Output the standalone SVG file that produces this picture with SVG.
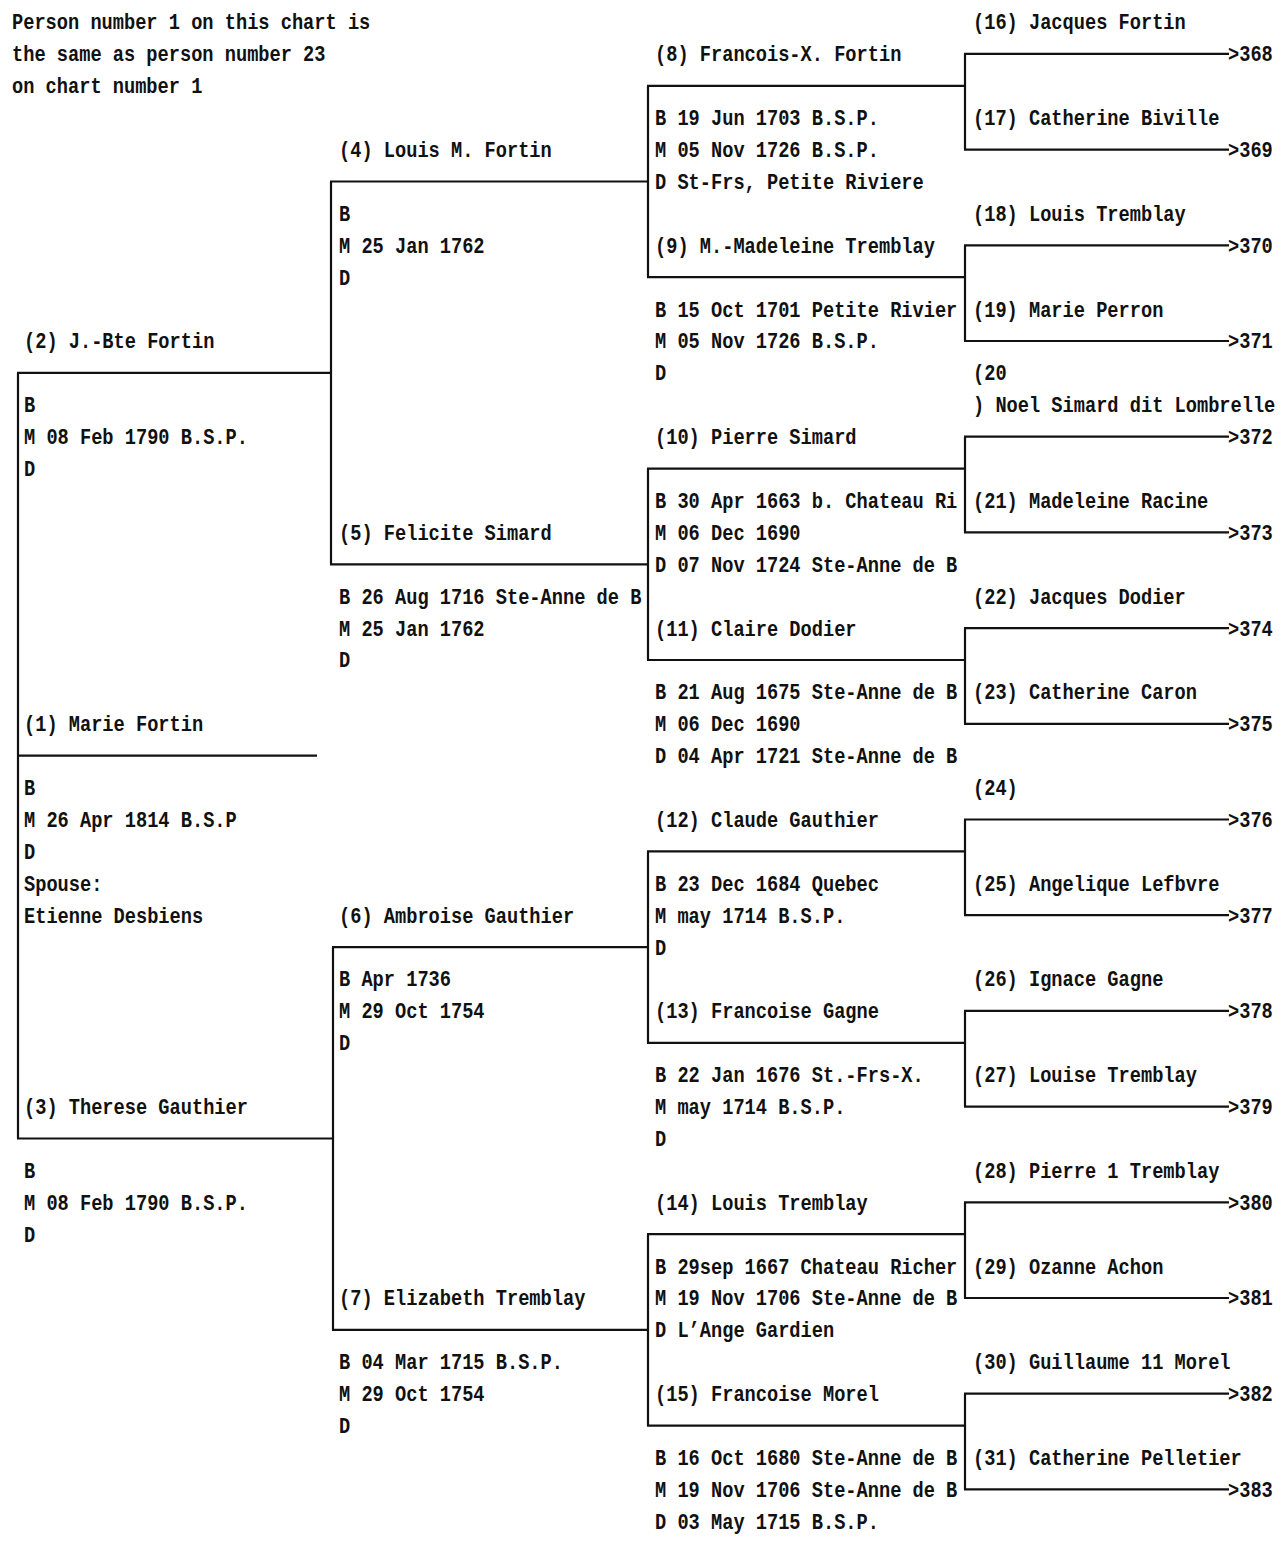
<svg xmlns="http://www.w3.org/2000/svg" width="1283" height="1543" viewBox="0 0 1283 1543">
<style>
text{font-family:"Liberation Mono","DejaVu Sans Mono",monospace;font-size:18.67px;font-weight:bold;fill:#111;white-space:pre}
.c line{stroke:#111;stroke-width:2.2;fill:none}
</style>
<rect width="1283" height="1543" fill="#fff"/>
<g id="connectors" class="c">
<line x1="18" y1="372.9" x2="18" y2="1138.5"/>
<line x1="17" y1="372.9" x2="331" y2="372.9"/>
<line x1="18" y1="755.7" x2="317" y2="755.7"/>
<line x1="17" y1="1138.5" x2="333" y2="1138.5"/>
<line x1="331" y1="181.5" x2="331" y2="564.3"/>
<line x1="333" y1="947.1" x2="333" y2="1329.9"/>
<line x1="330" y1="181.5" x2="648" y2="181.5"/>
<line x1="330" y1="564.3" x2="648" y2="564.3"/>
<line x1="332" y1="947.1" x2="648" y2="947.1"/>
<line x1="332" y1="1329.9" x2="648" y2="1329.9"/>
<line x1="648" y1="85.8" x2="648" y2="277.2"/>
<line x1="648" y1="468.6" x2="648" y2="660"/>
<line x1="648" y1="851.4" x2="648" y2="1042.8"/>
<line x1="648" y1="1234.2" x2="648" y2="1425.6"/>
<line x1="647" y1="85.8" x2="965" y2="85.8"/>
<line x1="647" y1="277.2" x2="965" y2="277.2"/>
<line x1="647" y1="468.6" x2="965" y2="468.6"/>
<line x1="647" y1="660" x2="965" y2="660"/>
<line x1="647" y1="851.4" x2="965" y2="851.4"/>
<line x1="647" y1="1042.8" x2="965" y2="1042.8"/>
<line x1="647" y1="1234.2" x2="965" y2="1234.2"/>
<line x1="647" y1="1425.6" x2="965" y2="1425.6"/>
<line x1="965" y1="53.9" x2="965" y2="149.6"/>
<line x1="965" y1="245.3" x2="965" y2="341"/>
<line x1="965" y1="436.7" x2="965" y2="532.4"/>
<line x1="965" y1="628.1" x2="965" y2="723.8"/>
<line x1="965" y1="819.5" x2="965" y2="915.2"/>
<line x1="965" y1="1010.9" x2="965" y2="1106.6"/>
<line x1="965" y1="1202.3" x2="965" y2="1298"/>
<line x1="965" y1="1393.7" x2="965" y2="1489.4"/>
<line x1="964" y1="53.9" x2="1229" y2="53.9"/>
<line x1="964" y1="149.6" x2="1229" y2="149.6"/>
<line x1="964" y1="245.3" x2="1229" y2="245.3"/>
<line x1="964" y1="341" x2="1229" y2="341"/>
<line x1="964" y1="436.7" x2="1229" y2="436.7"/>
<line x1="964" y1="532.4" x2="1229" y2="532.4"/>
<line x1="964" y1="628.1" x2="1229" y2="628.1"/>
<line x1="964" y1="723.8" x2="1229" y2="723.8"/>
<line x1="964" y1="819.5" x2="1229" y2="819.5"/>
<line x1="964" y1="915.2" x2="1229" y2="915.2"/>
<line x1="964" y1="1010.9" x2="1229" y2="1010.9"/>
<line x1="964" y1="1106.6" x2="1229" y2="1106.6"/>
<line x1="964" y1="1202.3" x2="1229" y2="1202.3"/>
<line x1="964" y1="1298" x2="1229" y2="1298"/>
<line x1="964" y1="1393.7" x2="1229" y2="1393.7"/>
<line x1="964" y1="1489.4" x2="1229" y2="1489.4"/>
</g>
<g transform="scale(1,1.2)">
<g id="note">
<text x="12" y="24.58">Person number 1 on this chart is</text>
<text x="12" y="51.17">the same as person number 23</text>
<text x="12" y="77.75">on chart number 1</text>
</g>
<g id="p1">
<text x="24" y="609.42">(1) Marie Fortin</text>
<text x="24" y="662.58">B</text>
<text x="24" y="689.17">M 26 Apr 1814 B.S.P</text>
<text x="24" y="715.75">D</text>
<text x="24" y="742.33">Spouse:</text>
<text x="24" y="768.92">Etienne Desbiens</text>
</g>
<g id="p2">
<text x="24" y="290.42">(2) J.-Bte Fortin</text>
<text x="24" y="343.58">B</text>
<text x="24" y="370.17">M 08 Feb 1790 B.S.P.</text>
<text x="24" y="396.75">D</text>
</g>
<g id="p3">
<text x="24" y="928.42">(3) Therese Gauthier</text>
<text x="24" y="981.58">B</text>
<text x="24" y="1008.17">M 08 Feb 1790 B.S.P.</text>
<text x="24" y="1034.75">D</text>
</g>
<g id="p4">
<text x="339" y="130.92">(4) Louis M. Fortin</text>
<text x="339" y="184.08">B</text>
<text x="339" y="210.67">M 25 Jan 1762</text>
<text x="339" y="237.25">D</text>
</g>
<g id="p5">
<text x="339" y="449.92">(5) Felicite Simard</text>
<text x="339" y="503.08">B 26 Aug 1716 Ste-Anne de B</text>
<text x="339" y="529.67">M 25 Jan 1762</text>
<text x="339" y="556.25">D</text>
</g>
<g id="p6">
<text x="339" y="768.92">(6) Ambroise Gauthier</text>
<text x="339" y="822.08">B Apr 1736</text>
<text x="339" y="848.67">M 29 Oct 1754</text>
<text x="339" y="875.25">D</text>
</g>
<g id="p7">
<text x="339" y="1087.92">(7) Elizabeth Tremblay</text>
<text x="339" y="1141.08">B 04 Mar 1715 B.S.P.</text>
<text x="339" y="1167.67">M 29 Oct 1754</text>
<text x="339" y="1194.25">D</text>
</g>
<g id="p8">
<text x="655" y="51.17">(8) Francois-X. Fortin</text>
<text x="655" y="104.33">B 19 Jun 1703 B.S.P.</text>
<text x="655" y="130.92">M 05 Nov 1726 B.S.P.</text>
<text x="655" y="157.5">D St-Frs, Petite Riviere</text>
</g>
<g id="p9">
<text x="655" y="210.67">(9) M.-Madeleine Tremblay</text>
<text x="655" y="263.83">B 15 Oct 1701 Petite Rivier</text>
<text x="655" y="290.42">M 05 Nov 1726 B.S.P.</text>
<text x="655" y="317">D</text>
</g>
<g id="p10">
<text x="655" y="370.17">(10) Pierre Simard</text>
<text x="655" y="423.33">B 30 Apr 1663 b. Chateau Ri</text>
<text x="655" y="449.92">M 06 Dec 1690</text>
<text x="655" y="476.5">D 07 Nov 1724 Ste-Anne de B</text>
</g>
<g id="p11">
<text x="655" y="529.67">(11) Claire Dodier</text>
<text x="655" y="582.83">B 21 Aug 1675 Ste-Anne de B</text>
<text x="655" y="609.42">M 06 Dec 1690</text>
<text x="655" y="636">D 04 Apr 1721 Ste-Anne de B</text>
</g>
<g id="p12">
<text x="655" y="689.17">(12) Claude Gauthier</text>
<text x="655" y="742.33">B 23 Dec 1684 Quebec</text>
<text x="655" y="768.92">M may 1714 B.S.P.</text>
<text x="655" y="795.5">D</text>
</g>
<g id="p13">
<text x="655" y="848.67">(13) Francoise Gagne</text>
<text x="655" y="901.83">B 22 Jan 1676 St.-Frs-X.</text>
<text x="655" y="928.42">M may 1714 B.S.P.</text>
<text x="655" y="955">D</text>
</g>
<g id="p14">
<text x="655" y="1008.17">(14) Louis Tremblay</text>
<text x="655" y="1061.33">B 29sep 1667 Chateau Richer</text>
<text x="655" y="1087.92">M 19 Nov 1706 Ste-Anne de B</text>
<text x="655" y="1114.5">D L’Ange Gardien</text>
</g>
<g id="p15">
<text x="655" y="1167.67">(15) Francoise Morel</text>
<text x="655" y="1220.83">B 16 Oct 1680 Ste-Anne de B</text>
<text x="655" y="1247.42">M 19 Nov 1706 Ste-Anne de B</text>
<text x="655" y="1274">D 03 May 1715 B.S.P.</text>
</g>
<g id="p16"><text x="973" y="24.58">(16) Jacques Fortin</text><text x="1228" y="51.17">&gt;368</text></g>
<g id="p17"><text x="973" y="104.33">(17) Catherine Biville</text><text x="1228" y="130.92">&gt;369</text></g>
<g id="p18"><text x="973" y="184.08">(18) Louis Tremblay</text><text x="1228" y="210.67">&gt;370</text></g>
<g id="p19"><text x="973" y="263.83">(19) Marie Perron</text><text x="1228" y="290.42">&gt;371</text></g>
<g id="p20"><text x="973" y="317">(20</text><text x="973" y="343.58">) Noel Simard dit Lombrelle</text><text x="1228" y="370.17">&gt;372</text></g>
<g id="p21"><text x="973" y="423.33">(21) Madeleine Racine</text><text x="1228" y="449.92">&gt;373</text></g>
<g id="p22"><text x="973" y="503.08">(22) Jacques Dodier</text><text x="1228" y="529.67">&gt;374</text></g>
<g id="p23"><text x="973" y="582.83">(23) Catherine Caron</text><text x="1228" y="609.42">&gt;375</text></g>
<g id="p24"><text x="973" y="662.58">(24)</text><text x="1228" y="689.17">&gt;376</text></g>
<g id="p25"><text x="973" y="742.33">(25) Angelique Lefbvre</text><text x="1228" y="768.92">&gt;377</text></g>
<g id="p26"><text x="973" y="822.08">(26) Ignace Gagne</text><text x="1228" y="848.67">&gt;378</text></g>
<g id="p27"><text x="973" y="901.83">(27) Louise Tremblay</text><text x="1228" y="928.42">&gt;379</text></g>
<g id="p28"><text x="973" y="981.58">(28) Pierre 1 Tremblay</text><text x="1228" y="1008.17">&gt;380</text></g>
<g id="p29"><text x="973" y="1061.33">(29) Ozanne Achon</text><text x="1228" y="1087.92">&gt;381</text></g>
<g id="p30"><text x="973" y="1141.08">(30) Guillaume 11 Morel</text><text x="1228" y="1167.67">&gt;382</text></g>
<g id="p31"><text x="973" y="1220.83">(31) Catherine Pelletier</text><text x="1228" y="1247.42">&gt;383</text></g>
</g>
</svg>
